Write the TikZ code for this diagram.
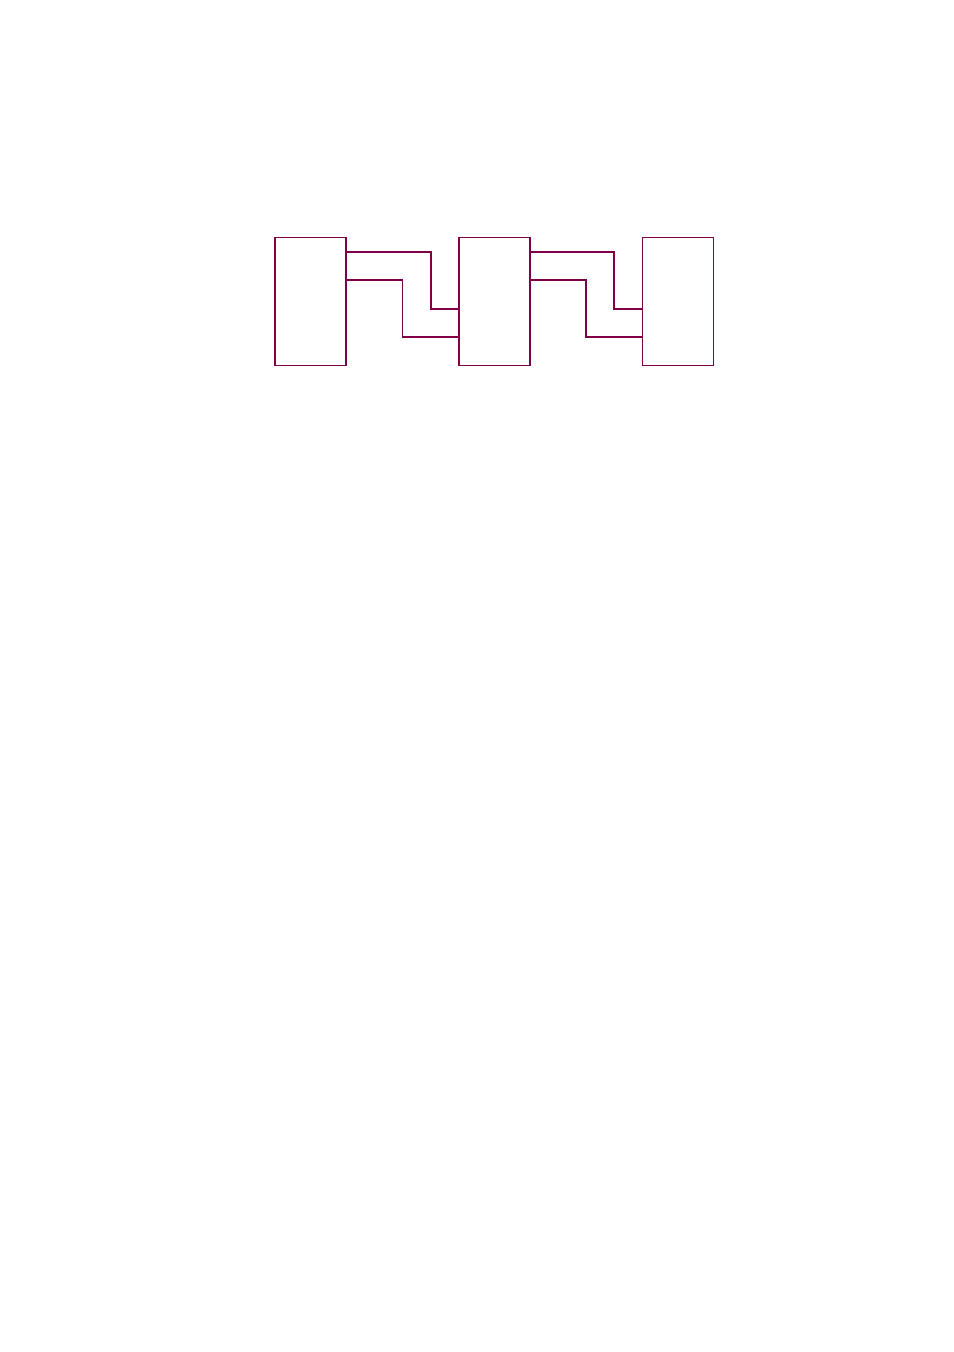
\documentclass[tikz,border=0pt]{standalone}
\definecolor{wire}{RGB}{128,0,72}
\begin{document}
\begin{tikzpicture}[x=0.6247pt,y=-0.6247pt,
  blk/.style={draw=wire,line width=0.9pt,rectangle,inner sep=0pt,minimum width=44.35pt,minimum height=79.96pt},
  link/.style={draw=wire,line width=0.9pt}]
\useasboundingbox (0,0) rectangle (953,1352);
\node[blk] (b1) at (310.5,301.5) {};
\node[blk] (b2) at (494.5,301.5) {};
\node[blk] (b3) at (678,301.5) {};
\coordinate (u) at (0,252);
\coordinate (l) at (0,280);
\coordinate (t1) at (431,309);
\coordinate (t2) at (402.5,337);
\coordinate (t3) at (614,309);
\coordinate (t4) at (586,337);
\draw[link] (b1.east |- u) -| (t1) -- (b2.west |- t1);
\draw[link] (b1.east |- l) -| (t2) -- (b2.west |- t2);
\draw[link] (b2.east |- u) -| (t3) -- (b3.west |- t3);
\draw[link] (b2.east |- l) -| (t4) -- (b3.west |- t4);
\end{tikzpicture}
\end{document}
